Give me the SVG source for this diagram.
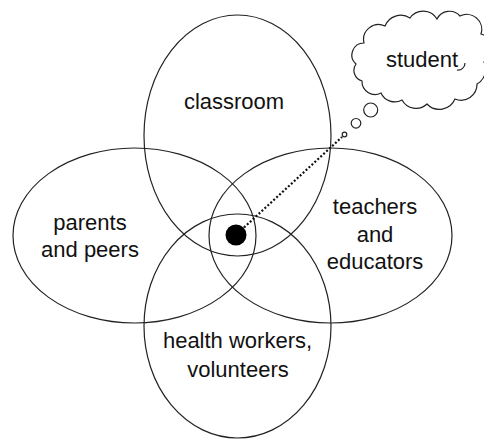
<svg xmlns="http://www.w3.org/2000/svg" width="484" height="439" viewBox="0 0 484 439">
<style>
.ring{fill:none;stroke:#222;stroke-width:1.2}
.lbl{font-family:"Liberation Sans",Arial,sans-serif;font-size:22px;fill:#111;text-anchor:middle}
.conn{fill:none;stroke:#111;stroke-width:2.2;stroke-dasharray:2 2}
</style>
<rect width="484" height="439" fill="#fff"/>
<g id="classroom">
<ellipse class="ring" cx="237.5" cy="135.5" rx="93.5" ry="120.5"/>
<text class="lbl" x="234" y="109">classroom</text>
</g>
<g id="parents">
<ellipse class="ring" cx="134.5" cy="235.5" rx="121.5" ry="87.5"/>
<text class="lbl" x="90" y="230">parents</text>
<text class="lbl" x="90" y="256.5">and peers</text>
</g>
<g id="teachers">
<ellipse class="ring" cx="330.5" cy="235.5" rx="121.5" ry="87.5"/>
<text class="lbl" x="375" y="214">teachers</text>
<text class="lbl" x="375" y="241.5">and</text>
<text class="lbl" x="375" y="269">educators</text>
</g>
<g id="health">
<ellipse class="ring" cx="237.5" cy="326" rx="93.5" ry="112"/>
<text class="lbl" x="237.5" y="348">health workers,</text>
<text class="lbl" x="238" y="376.5">volunteers</text>
</g>
<g id="focus">
<circle cx="236" cy="235" r="10.5" fill="#000"/>
</g>
<g id="connectors">
<line class="conn" x1="244" y1="227.5" x2="342" y2="137"/>
</g>
<g id="student">
<circle class="ring" cx="344.5" cy="134.5" r="2.3"/>
<circle class="ring" cx="356" cy="123.3" r="4.8"/>
<circle class="ring" cx="370.7" cy="110" r="7"/>
<path class="ring" d="M356,64 A12,12 0 0 1 364,43 A15,15 0 0 1 385,26 A17,17 0 0 1 410,18 A16,16 0 0 1 437,19 A14,14 0 0 1 460,16 A15,15 0 0 1 481,34 A15,15 0 0 1 484,62 A17,17 0 0 1 477,84 A16,16 0 0 1 455,99 A17,17 0 0 1 427,104 A16,16 0 0 1 402,100 A15,15 0 0 1 381,93 A13,13 0 0 1 362,81 A11,11 0 0 1 356,64 Z"/>
<path class="ring" d="M457,70 A7,7 0 0 0 465,63"/>
<text class="lbl" x="422" y="67">student</text>
</g>
</svg>
